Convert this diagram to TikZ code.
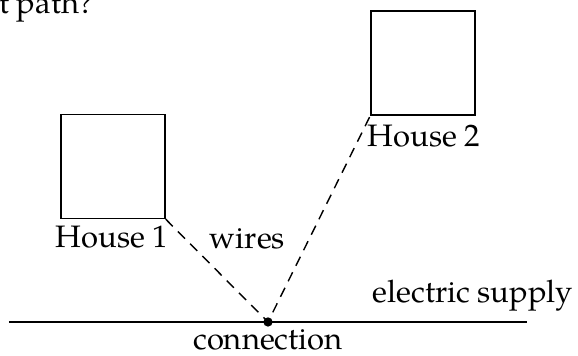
\documentclass[tikz,border=0pt]{standalone}
\usepackage{fontspec}
\setmainfont{TeX Gyre Pagella}
\begin{document}
\begin{tikzpicture}[x=0.387pt, y=-0.387pt,
  every node/.style={font=\fontsize{12}{14.4}\selectfont},
  house/.style={draw, line width=0.6pt, minimum size=40.2pt, inner sep=0pt},
  lbl/.style={inner sep=0pt, anchor=base},
  wire/.style={line width=0.55pt, dash pattern=on 3.9pt off 2.8pt},
  supply/.style={line width=0.6pt},
  joint/.style={circle, fill, inner sep=0pt, minimum size=3.6pt}]
  \useasboundingbox (0,0) rectangle (578,356);

  % houses
  \node[house] (h1) at (113,166.5) {};
  \node[house] (h2) at (423,63) {};

  % supply line with the connection point
  \coordinate (sl) at (9,322);
  \coordinate (sr) at (527,322);
  \draw[supply] (sl) -- (sr);
  \node[joint] (c) at (268,322) {};

  % wires from the houses to the connection
  \draw[wire] (h1.south east) -- (c.center) -- (h2.south west);

  % labels
  \node[lbl, anchor=base west] (q) at (-1.5,13.5) {t path?};
  \node[lbl] (l1) at (112,248) {House 1};
  \node[lbl] (l2) at (424,147) {House 2};
  \node[lbl] (lw) at (247.5,249) {wires};
  \node[lbl] (ls) at (472.5,303) {electric supply};
  \node[lbl] (lc) at (268,349.5) {connection};
\end{tikzpicture}
\end{document}
